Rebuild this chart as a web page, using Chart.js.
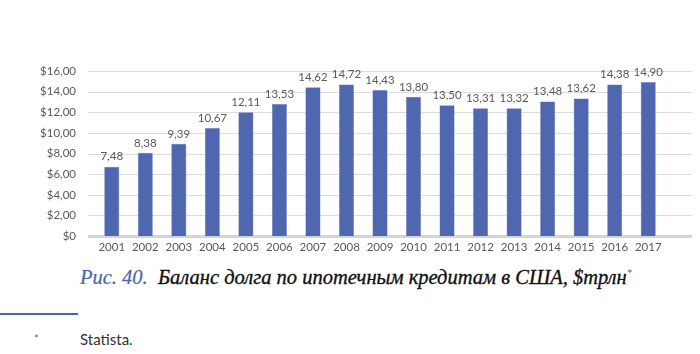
<!DOCTYPE html>
<html>
<head>
<meta charset="utf-8">
<script src="https://cdn.jsdelivr.net/npm/chart.js@4"></script>
<style>
  body { margin: 0; background: #fff; width: 700px; height: 354px; overflow: hidden; position: relative; }
  #box { position: absolute; left: 0; top: 0; width: 700px; height: 262px; }
  .caption { position: absolute; left: 80px; top: 266px; font-family: "Liberation Serif", serif; font-style: italic; font-size: 20.5px; color: #111; white-space: nowrap; -webkit-text-stroke: 0.35px #111; }
  .caption .num { color: #4a66ad; -webkit-text-stroke: 0.2px #4a66ad; }
  .caption sup { color: #4a66ad; font-size: 10px; -webkit-text-stroke: 0; }
  .rule { position: absolute; left: 0; top: 313px; width: 78px; height: 2px; background: #4a66ad; }
  .star { position: absolute; left: 34px; top: 332px; font-family: Lato, sans-serif; font-size: 11px; color: #4a66ad; }
  .src { position: absolute; left: 80px; top: 330px; font-family: Lato, sans-serif; font-size: 15px; color: #333; }
</style>
</head>
<body>
<div id="box"><canvas id="myChart"></canvas></div>
<div class="caption"><span class="num">Рис. 40.</span>&nbsp; Баланс долга по ипотечным кредитам в США, $трлн<sup>*</sup></div>
<div class="rule"></div>
<div class="star">*</div>
<div class="src">Statista.</div>
<script>
var years = ['2001', '2002', '2003', '2004', '2005', '2006', '2007', '2008', '2009',
             '2010', '2011', '2012', '2013', '2014', '2015', '2016', '2017'];
// bar heights as drawn in the picture
var barValues = [6.72, 8.07, 8.94, 10.47, 12.0, 12.8, 14.43, 14.69, 14.17,
                 13.5, 12.67, 12.38, 12.38, 13.05, 13.34, 14.69, 14.94];
// value labels printed above the bars
var barLabels = ['7,48', '8,38', '9,39', '10,67', '12,11', '13,53', '14,62', '14,72', '14,43',
                 '13,80', '13,50', '13,31', '13,32', '13,48', '13,62', '14,38', '14,90'];
var yTicks = [0, 2, 4, 6, 8, 10, 12, 14, 16];

var myChart;

document.addEventListener('DOMContentLoaded', function() {
    var sans = 'Lato, sans-serif';

    // horizontal gridlines run a bit wider than the bars, like the original
    var wideGrid = {
        id: 'wideGrid',
        beforeDatasetsDraw: function(chart) {
            var ctx = chart.ctx;
            var y = chart.scales.y;
            ctx.save();
            yTicks.forEach(function(v) {
                var py = Math.round(y.getPixelForValue(v));
                ctx.beginPath();
                if (v === 0) {
                    ctx.strokeStyle = '#d4d4d4';
                    ctx.lineWidth = 3;
                } else {
                    ctx.strokeStyle = '#dcdcdc';
                    ctx.lineWidth = 1;
                }
                ctx.moveTo(88, py + 0.5);
                ctx.lineTo(692, py + 0.5);
                ctx.stroke();
            });
            ctx.restore();
        }
    };

    var valueLabels = {
        id: 'valueLabels',
        afterDatasetsDraw: function(chart) {
            var ctx = chart.ctx;
            var meta = chart.getDatasetMeta(0);
            ctx.save();
            ctx.font = '11.5px ' + sans;
            ctx.fillStyle = '#595959';
            ctx.textAlign = 'center';
            ctx.textBaseline = 'middle';
            meta.data.forEach(function(bar, i) {
                ctx.fillText(barLabels[i], bar.x, bar.y - 10);
            });
            ctx.restore();
        }
    };

    var ctx = document.getElementById('myChart').getContext('2d');
    myChart = new Chart(ctx, {
        type: 'bar',
        data: {
            labels: years,
            datasets: [{
                data: barValues,
                backgroundColor: '#4f67ae',
                borderColor: '#6a80c0',
                borderWidth: 0.5,
                barPercentage: 0.45,
                categoryPercentage: 1
            }]
        },
        options: {
            responsive: true,
            maintainAspectRatio: false,
            animation: false,
            layout: { padding: { top: 71, right: 35, left: 0, bottom: 0 } },
            plugins: {
                legend: { display: false },
                tooltip: { enabled: false }
            },
            scales: {
                x: {
                    grid: { display: false, drawTicks: false },
                    border: { display: false },
                    ticks: { color: '#595959', font: { family: sans, size: 11.5 }, padding: 4, maxRotation: 0 },
                    afterFit: function(scale) { scale.height = 25; }
                },
                y: {
                    min: 0,
                    max: 16,
                    grid: { display: false, drawTicks: false },
                    border: { display: false },
                    afterBuildTicks: function(scale) {
                        scale.ticks = yTicks.map(function(v) { return { value: v }; });
                    },
                    ticks: {
                        color: '#595959',
                        font: { family: sans, size: 11.5 },
                        padding: 19,
                        callback: function(v) {
                            return v === 0 ? '$0' : '$' + v.toFixed(2).replace('.', ',');
                        }
                    },
                    afterFit: function(scale) { scale.width = 95; }
                }
            }
        },
        plugins: [wideGrid, valueLabels]
    });
});
</script>
</body>
</html>
